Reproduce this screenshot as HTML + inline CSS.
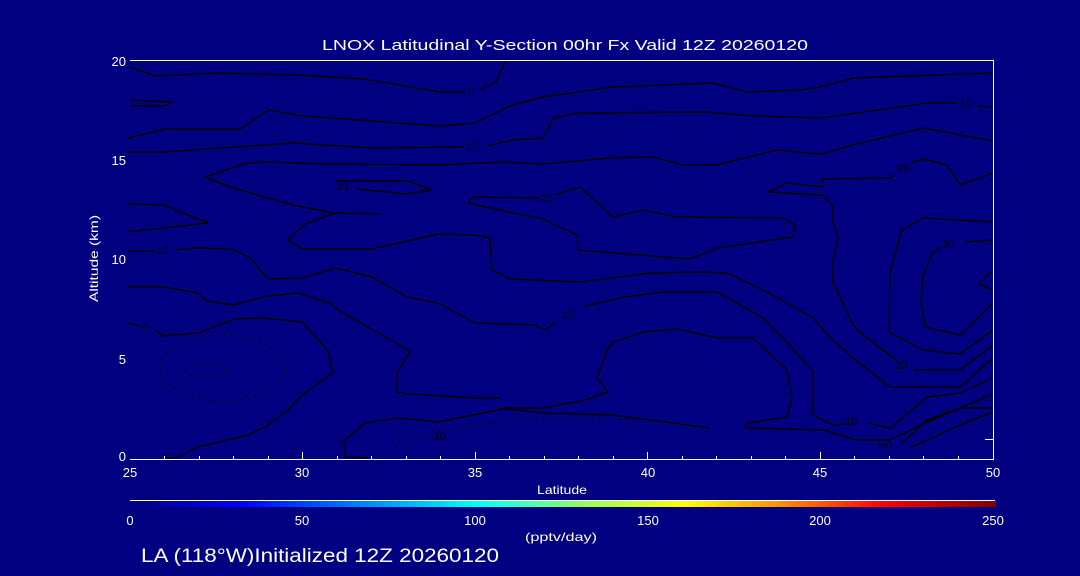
<!DOCTYPE html>
<html><head><meta charset="utf-8"><style>
html,body{margin:0;padding:0;background:#000080;width:1080px;height:576px;overflow:hidden}
svg{display:block}
text{font-family:"Liberation Sans",sans-serif;fill:#fff}
</style></head><body>
<svg width="1080" height="576" viewBox="0 0 1080 576" xmlns="http://www.w3.org/2000/svg">
<defs>
<linearGradient id="cb" x1="0" x2="1" y1="0" y2="0">
<stop offset="0" stop-color="#000080"/>
<stop offset="0.13" stop-color="#0000ff"/>
<stop offset="0.40" stop-color="#00ffff"/>
<stop offset="0.52" stop-color="#90ff60"/>
<stop offset="0.64" stop-color="#ffff00"/>
<stop offset="0.75" stop-color="#ff9000"/>
<stop offset="0.87" stop-color="#ff0000"/>
<stop offset="1" stop-color="#800000"/>
</linearGradient>
</defs>
<rect width="1080" height="576" fill="#000080"/>
<g fill="none" stroke="#000" stroke-width="1.5" stroke-linejoin="round">
<polyline points="130,67 155,76 217,73 297,75 363,79 440,92 465,92"/>
<polyline points="479,90 496,82 507,58"/>
<polyline points="130,100 172,102 165,106 130,106"/>
<polyline points="128,138 165,129 240,129 268,110 303,116 440,126 475,123 512,105 543,97 613,87 713,83 747,92 800,90 820,87 853,78 993,73"/>
<polyline points="128,152 163,152 293,143 372,148 463,147"/>
<polyline points="487,146 512,140 543,138 553,118 578,113 707,112 753,116 820,118 893,108 927,103 957,103"/>
<polyline points="977,106 993,107"/>
<polyline points="380,214 333,213 293,205 233,188 205,177 247,163 267,162 327,164 440,165 500,162 543,164 610,158 653,157 683,165 717,165 777,150 820,154 857,144 923,128 993,141"/>
<polyline points="335,181 408,181 432,190 405,194 357,189"/>
<polyline points="128,204 163,205 208,223 128,232"/>
<polyline points="128,251 155,251"/>
<polyline points="175,250 192,248 232,249 250,258 268,279 302,278 335,268 372,277 407,297 438,303 475,323 535,325 545,330 555,323"/>
<polyline points="585,306 625,297 663,292 717,292 763,318 787,342 813,372 813,415 833,425 845,424"/>
<polyline points="867,423 890,428 927,397 960,393 993,378"/>
<polyline points="335,213 305,224 288,240 302,249 372,249 407,241 438,234 475,235 490,238 492,270 510,279 580,282 650,273 700,272 727,273 767,292 813,318 830,337 853,358 890,387 960,387 993,358"/>
<polyline points="540,198 473,197 468,203 512,213 540,218 577,235 578,250 690,259 717,248 793,237 795,225 783,218 677,217 643,210 613,217 580,187 555,195"/>
<polyline points="993,173 960,185 947,165 923,159 912,163"/>
<polyline points="895,175 890,178 822,179 822,187 787,183 768,192 787,193 822,195 833,206 833,222 838,237 833,263 833,282 852,323 857,330 892,357 897,360"/>
<polyline points="913,370 960,370 993,345"/>
<polyline points="993,222 923,218 902,230 890,272 889,332 923,350 960,354 993,330"/>
<polyline points="993,240 965,242"/>
<polyline points="940,247 933,253 923,275 921,302 925,327 960,335 993,303"/>
<polyline points="993,270 979,284 993,290"/>
<polyline points="128,323 140,326"/>
<polyline points="155,330 163,336 198,333 235,319 262,318 302,322 328,351 333,373 302,395 288,410 268,425 248,435 198,447 178,457 163,459"/>
<polyline points="345,440 365,423 398,418 438,422 508,408 543,408 585,400 608,392 597,378 607,350 613,342 643,332 677,329 717,338 753,338 787,370 792,398 787,417 747,423 745,428 823,430 857,440 890,440 927,422 960,408 993,394"/>
<polyline points="345,448 345,457 368,458"/>
<polyline points="128,287 163,287 198,293 207,301 233,305 268,296 298,293 330,303 338,310 410,351 397,373 397,392 408,394 475,398 500,398"/>
<polyline points="500,408 543,413 613,415 710,428"/>
<polyline points="877,445 885,445"/>
<polyline points="902,443 927,420 960,408 993,408"/>
<polyline points="910,448 960,425 993,412"/>
</g>
<g fill="none" stroke="#000" stroke-width="1.2" stroke-dasharray="2,5">
<ellipse cx="222" cy="368" rx="62" ry="33"/>
<ellipse cx="205" cy="371" rx="20" ry="6"/>
<polyline points="393,455 400,440 430,432 520,420 600,418 640,420"/>
</g>
<g font-size="11">
<text x="468" y="94" style="fill:#000">0</text>
<text x="466" y="150" style="fill:#000">10</text>
<text x="960" y="107" style="fill:#000">10</text>
<text x="336" y="190" style="fill:#000">20</text>
<text x="540" y="202" style="fill:#000">20</text>
<text x="897" y="172" style="fill:#000">20</text>
<text x="156" y="254" style="fill:#000">10</text>
<text x="562" y="318" style="fill:#000">10</text>
<text x="942" y="248" style="fill:#000">30</text>
<text x="895" y="369" style="fill:#000">20</text>
<text x="845" y="425" style="fill:#000">10</text>
<text x="142" y="331" style="fill:#000">0</text>
<text x="340" y="447" style="fill:#000">0</text>
<text x="430" y="440" style="fill:#000">-10</text>
<text x="886" y="449" style="fill:#000">0</text>
</g>
<g stroke="#fff" stroke-width="1" fill="none">
<line x1="130" y1="60.5" x2="994" y2="60.5"/>
<line x1="130" y1="459.5" x2="994" y2="459.5"/>
<line x1="993.5" y1="60" x2="993.5" y2="460"/>
<line x1="985" y1="439.5" x2="993" y2="439.5"/>
<path d="M164.5 460v-4M199.5 460v-4M233.5 460v-4M268.5 460v-4M302.5 460v-8M337.5 460v-4M371.5 460v-4M406.5 460v-4M440.5 460v-4M475.5 460v-8M509.5 460v-4M544.5 460v-4M578.5 460v-4M613.5 460v-4M647.5 460v-8M682.5 460v-4M716.5 460v-4M751.5 460v-4M785.5 460v-4M820.5 460v-8M854.5 460v-4M889.5 460v-4M923.5 460v-4M958.5 460v-4"/>
<line x1="130" y1="500.5" x2="995" y2="500.5"/>
</g>
<rect x="130" y="501" width="866" height="6" fill="url(#cb)"/>
<text x="322" y="50" font-size="15" textLength="486" lengthAdjust="spacingAndGlyphs">LNOX Latitudinal Y-Section 00hr  Fx Valid 12Z 20260120</text>
<g font-size="13" text-anchor="end">
<text x="126" y="66">20</text>
<text x="126" y="165">15</text>
<text x="126" y="264">10</text>
<text x="126" y="364">5</text>
<text x="126" y="461">0</text>
</g>
<text transform="translate(98,302) rotate(-90)" font-size="12" textLength="87" lengthAdjust="spacingAndGlyphs">Altitude (km)</text>
<g font-size="13" text-anchor="middle">
<text x="130" y="477">25</text>
<text x="302" y="477">30</text>
<text x="475" y="477">35</text>
<text x="648" y="477">40</text>
<text x="820" y="477">45</text>
<text x="993" y="477">50</text>
<text x="130" y="525">0</text>
<text x="302" y="525">50</text>
<text x="475" y="525">100</text>
<text x="648" y="525">150</text>
<text x="820" y="525">200</text>
<text x="993" y="525">250</text>
</g>
<text x="537" y="494" font-size="12" textLength="50" lengthAdjust="spacingAndGlyphs">Latitude</text>
<text x="525" y="541" font-size="12" textLength="72" lengthAdjust="spacingAndGlyphs">(pptv/day)</text>
<text x="141" y="562" font-size="19" textLength="358" lengthAdjust="spacingAndGlyphs">LA (118°W)Initialized 12Z 20260120</text>
</svg>
</body></html>
